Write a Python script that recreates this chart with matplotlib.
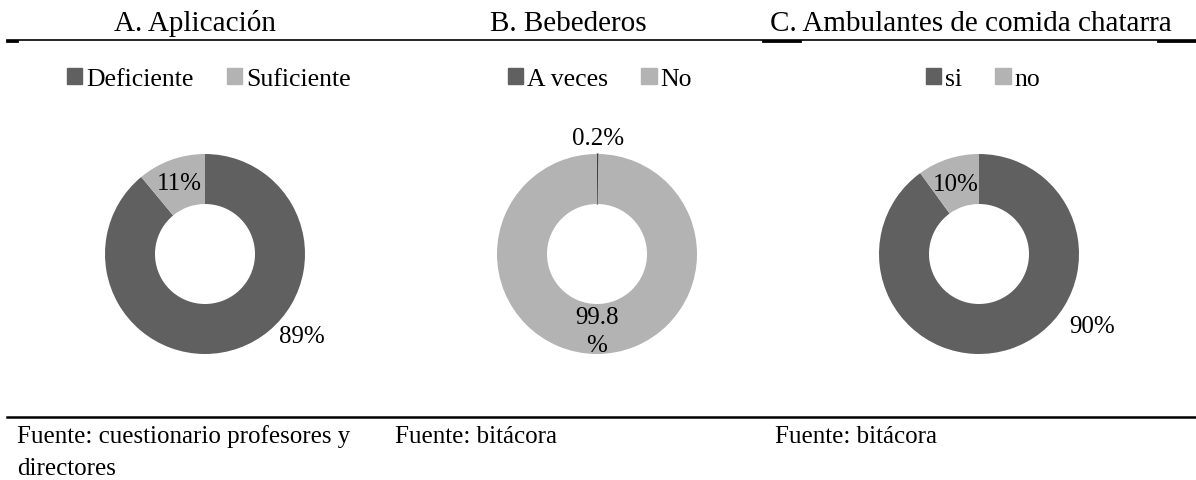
import matplotlib
matplotlib.use('Agg')
import matplotlib.pyplot as plt
import matplotlib.patches as mpatches
import numpy as np

plt.rcParams['font.family'] = ['Liberation Serif', 'DejaVu Serif']

# datos de las tres gráficas
titles = ['A. Aplicación', 'B. Bebederos', 'C. Ambulantes de comida chatarra']
labels_a = ['Deficiente', 'Suficiente']
values_a = [89, 11]
labels_b = ['A veces', 'No']
values_b = [0.2, 99.8]
labels_c = ['si', 'no']
values_c = [90, 10]
sources = ['Fuente: cuestionario profesores y\ndirectores', 'Fuente: bitácora', 'Fuente: bitácora']

colors = ['#606060', '#b3b3b3']

W, H = 1196, 481
R_PX = 103  # radio exterior en pixeles

fig = plt.figure(figsize=(W / 100, H / 100), dpi=100)

# centro de cada dona, centro de titulo y de leyenda (pixeles)
centers = [(205, 255), (597, 255), (979, 255)]
title_x = [195, 568, 971]
legend_x = [209, 600, 983]
source_x = [17, 395, 775]

# posicion de etiquetas: (radio, angulo) ; angulo None = mitad de la porcion
label_pos = [
    [(1.27, -40), (0.75, None)],
    [(1.16, None), (0.77, None)],
    [(1.34, -32.5), (0.74, None)],
]


def fmt(v):
    s = f'{v:g}'
    if v > 99:
        return s + '\n%'
    return s + '%'


def px(x, y):
    return x / W, 1 - y / H


data = [(labels_a, values_a), (labels_b, values_b), (labels_c, values_c)]

for i, (labs, vals) in enumerate(data):
    cx, cy = centers[i]
    half = 125
    ax = fig.add_axes([(cx - half) / W, (H - cy - half) / H, 2 * half / W, 2 * half / H])
    lim = half / R_PX
    ax.set_xlim(-lim, lim)
    ax.set_ylim(-lim, lim)
    ax.set_aspect('equal')
    ax.axis('off')
    wedges, _ = ax.pie(vals, colors=colors, startangle=90, counterclock=False, radius=1,
                       wedgeprops=dict(width=0.5, linewidth=0))
    if i == 1:
        # porcion muy pequeña: se dibuja con borde para que se vea la linea
        wedges[0].set_edgecolor('#404040')
        wedges[0].set_linewidth(0.8)
    for w, v, (r, ang) in zip(wedges, vals, label_pos[i]):
        if ang is None:
            ang = (w.theta1 + w.theta2) / 2
        t = np.deg2rad(ang)
        ax.text(r * np.cos(t), r * np.sin(t), fmt(v), ha='center', va='center',
                fontsize=18, linespacing=1.3)

    # titulo
    fig.text(*px(title_x[i], 31), titles[i], ha='center', va='baseline', fontsize=21)

    # leyenda
    handles = [mpatches.Patch(color=c) for c in colors]
    fig.legend(handles, labs, loc='center', bbox_to_anchor=px(legend_x[i], 80), ncol=2,
               frameon=False, fontsize=18.5, handlelength=0.6, handleheight=0.6,
               handletextpad=0.15, columnspacing=1.3, borderaxespad=0)

    # fuente, linea por linea
    for k, line in enumerate(sources[i].split('\n')):
        fig.text(*px(source_x[i], 443 + 32 * k), line, ha='left', va='baseline', fontsize=18)

# lineas horizontales
fig.add_artist(plt.Line2D([7 / W, 1], [1 - 41 / H] * 2, color='black', lw=1.2))
for x0, x1 in [(7, 17), (763, 800), (1158, 1196)]:
    fig.add_artist(plt.Line2D([x0 / W, x1 / W], [1 - 42 / H] * 2, color='black', lw=2))
fig.add_artist(plt.Line2D([7 / W, 1], [1 - 418 / H] * 2, color='black', lw=1.8))

fig.savefig('out.png', dpi=100)
